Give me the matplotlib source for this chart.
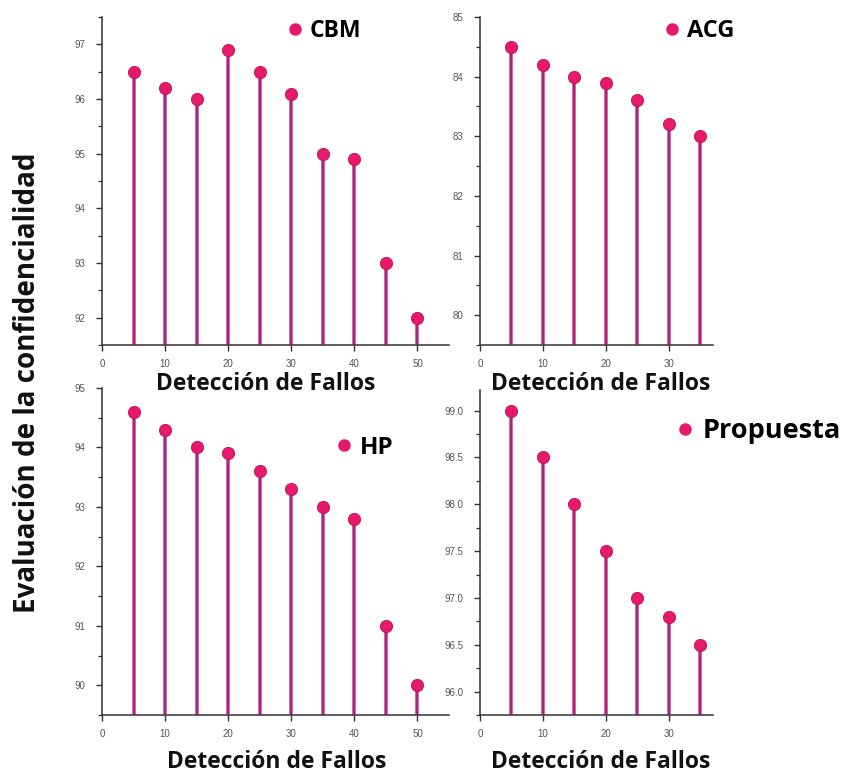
import matplotlib
matplotlib.use("Agg")
import matplotlib.pyplot as plt
from matplotlib.lines import Line2D
from matplotlib.ticker import MultipleLocator, FormatStrFormatter

# ---------------- data ----------------
x_long = [5, 10, 15, 20, 25, 30, 35, 40, 45, 50]
x_short = [5, 10, 15, 20, 25, 30, 35]

cbm = [96.5, 96.2, 96.0, 96.9, 96.5, 96.1, 95.0, 94.9, 93.0, 92.0]
acg = [84.5, 84.2, 84.0, 83.9, 83.6, 83.2, 83.0]
hp = [94.6, 94.3, 94.0, 93.9, 93.6, 93.3, 93.0, 92.8, 91.0, 90.0]
propuesta = [99.0, 98.5, 98.0, 97.5, 97.0, 96.8, 96.5]

names = ["CBM", "ACG", "HP", "Propuesta"]
xlabel = "Detección de Fallos"
ylabel = "Evaluación de la confidencialidad"

# ---------------- style ----------------
W, H = 846, 774
fig = plt.figure(figsize=(W / 100, H / 100), dpi=100)
fig.patch.set_facecolor("white")

STEM_PINK = "#e23a9c"
STEM_PURPLE = "#7b2f72"
DOT = "#e8196a"
DOT_EDGE = "#b8124f"
TICK_COL = "#555555"
AX_COL = "#333333"
LABEL_FONT = ["Open Sans", "DejaVu Sans"]
TICK_FONT = ["Liberation Sans", "DejaVu Sans"]


def px_axes(l, t, r, b):
    return [l / W, 1 - b / H, (r - l) / W, (b - t) / H]


panels = [
    dict(x=x_long, y=cbm, name=names[0], rect=(102, 17, 449, 345), xlim=(0, 55),
         ylim=(91.5, 97.5), major=1, minor=0.5, fmt="%d", xmax_tick=50,
         leg=(288, 31), legsize=16.5, xl=(266, 384)),
    dict(x=x_short, y=acg, name=names[1], rect=(480, 17, 713, 345), xlim=(0, 37),
         ylim=(79.5, 85.0), major=1, minor=0.5, fmt="%d", xmax_tick=30,
         leg=(665, 31), legsize=17, xl=(601, 384)),
    dict(x=x_long, y=hp, name=names[2], rect=(102, 388, 449, 715), xlim=(0, 55),
         ylim=(89.5, 95.0), major=1, minor=0.5, fmt="%d", xmax_tick=50,
         leg=(337, 448), legsize=17.5, xl=(277, 762)),
    dict(x=x_short, y=propuesta, name=names[3], rect=(480, 390, 713, 715), xlim=(0, 37),
         ylim=(95.75, 99.22), major=0.5, minor=0.25, fmt="%.1f", xmax_tick=30,
         leg=(677, 431), legsize=19.5, xl=(601, 762)),
]

for p in panels:
    ax = fig.add_axes(px_axes(*p["rect"]))
    ax.set_xlim(*p["xlim"])
    ax.set_ylim(*p["ylim"])
    bottom = p["ylim"][0]
    ax.vlines(p["x"], bottom, p["y"], colors=STEM_PINK, linewidth=2.6, zorder=2)
    ax.vlines(p["x"], bottom, p["y"], colors=STEM_PURPLE, linewidth=1.1, zorder=3)
    ax.plot(p["x"], p["y"], linestyle="none", marker="o", markersize=8.8,
            markerfacecolor=DOT, markeredgecolor=DOT_EDGE, markeredgewidth=0.6,
            zorder=4, clip_on=False)

    for s in ("top", "right"):
        ax.spines[s].set_visible(False)
    for s in ("left", "bottom"):
        ax.spines[s].set_color(AX_COL)
        ax.spines[s].set_linewidth(1.1)

    ax.set_xticks([t for t in range(0, p["xmax_tick"] + 1, 10)])
    ax.yaxis.set_major_locator(MultipleLocator(p["major"]))
    ax.yaxis.set_minor_locator(MultipleLocator(p["minor"]))
    ax.yaxis.set_major_formatter(FormatStrFormatter(p["fmt"]))
    ax.tick_params(axis="both", which="major", direction="out", length=4, width=1.0,
                   color=AX_COL, labelsize=7, labelcolor=TICK_COL)
    ax.tick_params(axis="y", which="minor", direction="out", length=3, width=0.9,
                   color=AX_COL)
    ax.tick_params(axis="y", which="major", pad=8)
    ax.tick_params(axis="x", which="major", pad=6)
    for lab in ax.get_xticklabels() + ax.get_yticklabels():
        lab.set_fontfamily(TICK_FONT)

    handle = Line2D([], [], linestyle="none", marker="o", markersize=8,
                    markerfacecolor=DOT, markeredgecolor=DOT)
    lx, ly = p["leg"]
    ax.legend([handle], [p["name"]], loc="center left",
              bbox_to_anchor=(lx / W, 1 - ly / H), bbox_transform=fig.transFigure,
              frameon=False, handlelength=0.6, handletextpad=0.35, borderpad=0,
              borderaxespad=0,
              prop=dict(family=LABEL_FONT, weight="bold", size=p["legsize"]))

    xx, yy = p["xl"]
    fig.text(xx / W, 1 - yy / H, xlabel, ha="center", va="center",
             fontsize=16.5, fontweight="bold", family=LABEL_FONT, color="#111111")

fig.text(28 / W, 1 - 383 / H, ylabel, rotation=90, ha="center", va="center",
         fontsize=20, fontweight="bold", family=LABEL_FONT, color="#111111")

fig.savefig("out.png", dpi=100, facecolor="white")
